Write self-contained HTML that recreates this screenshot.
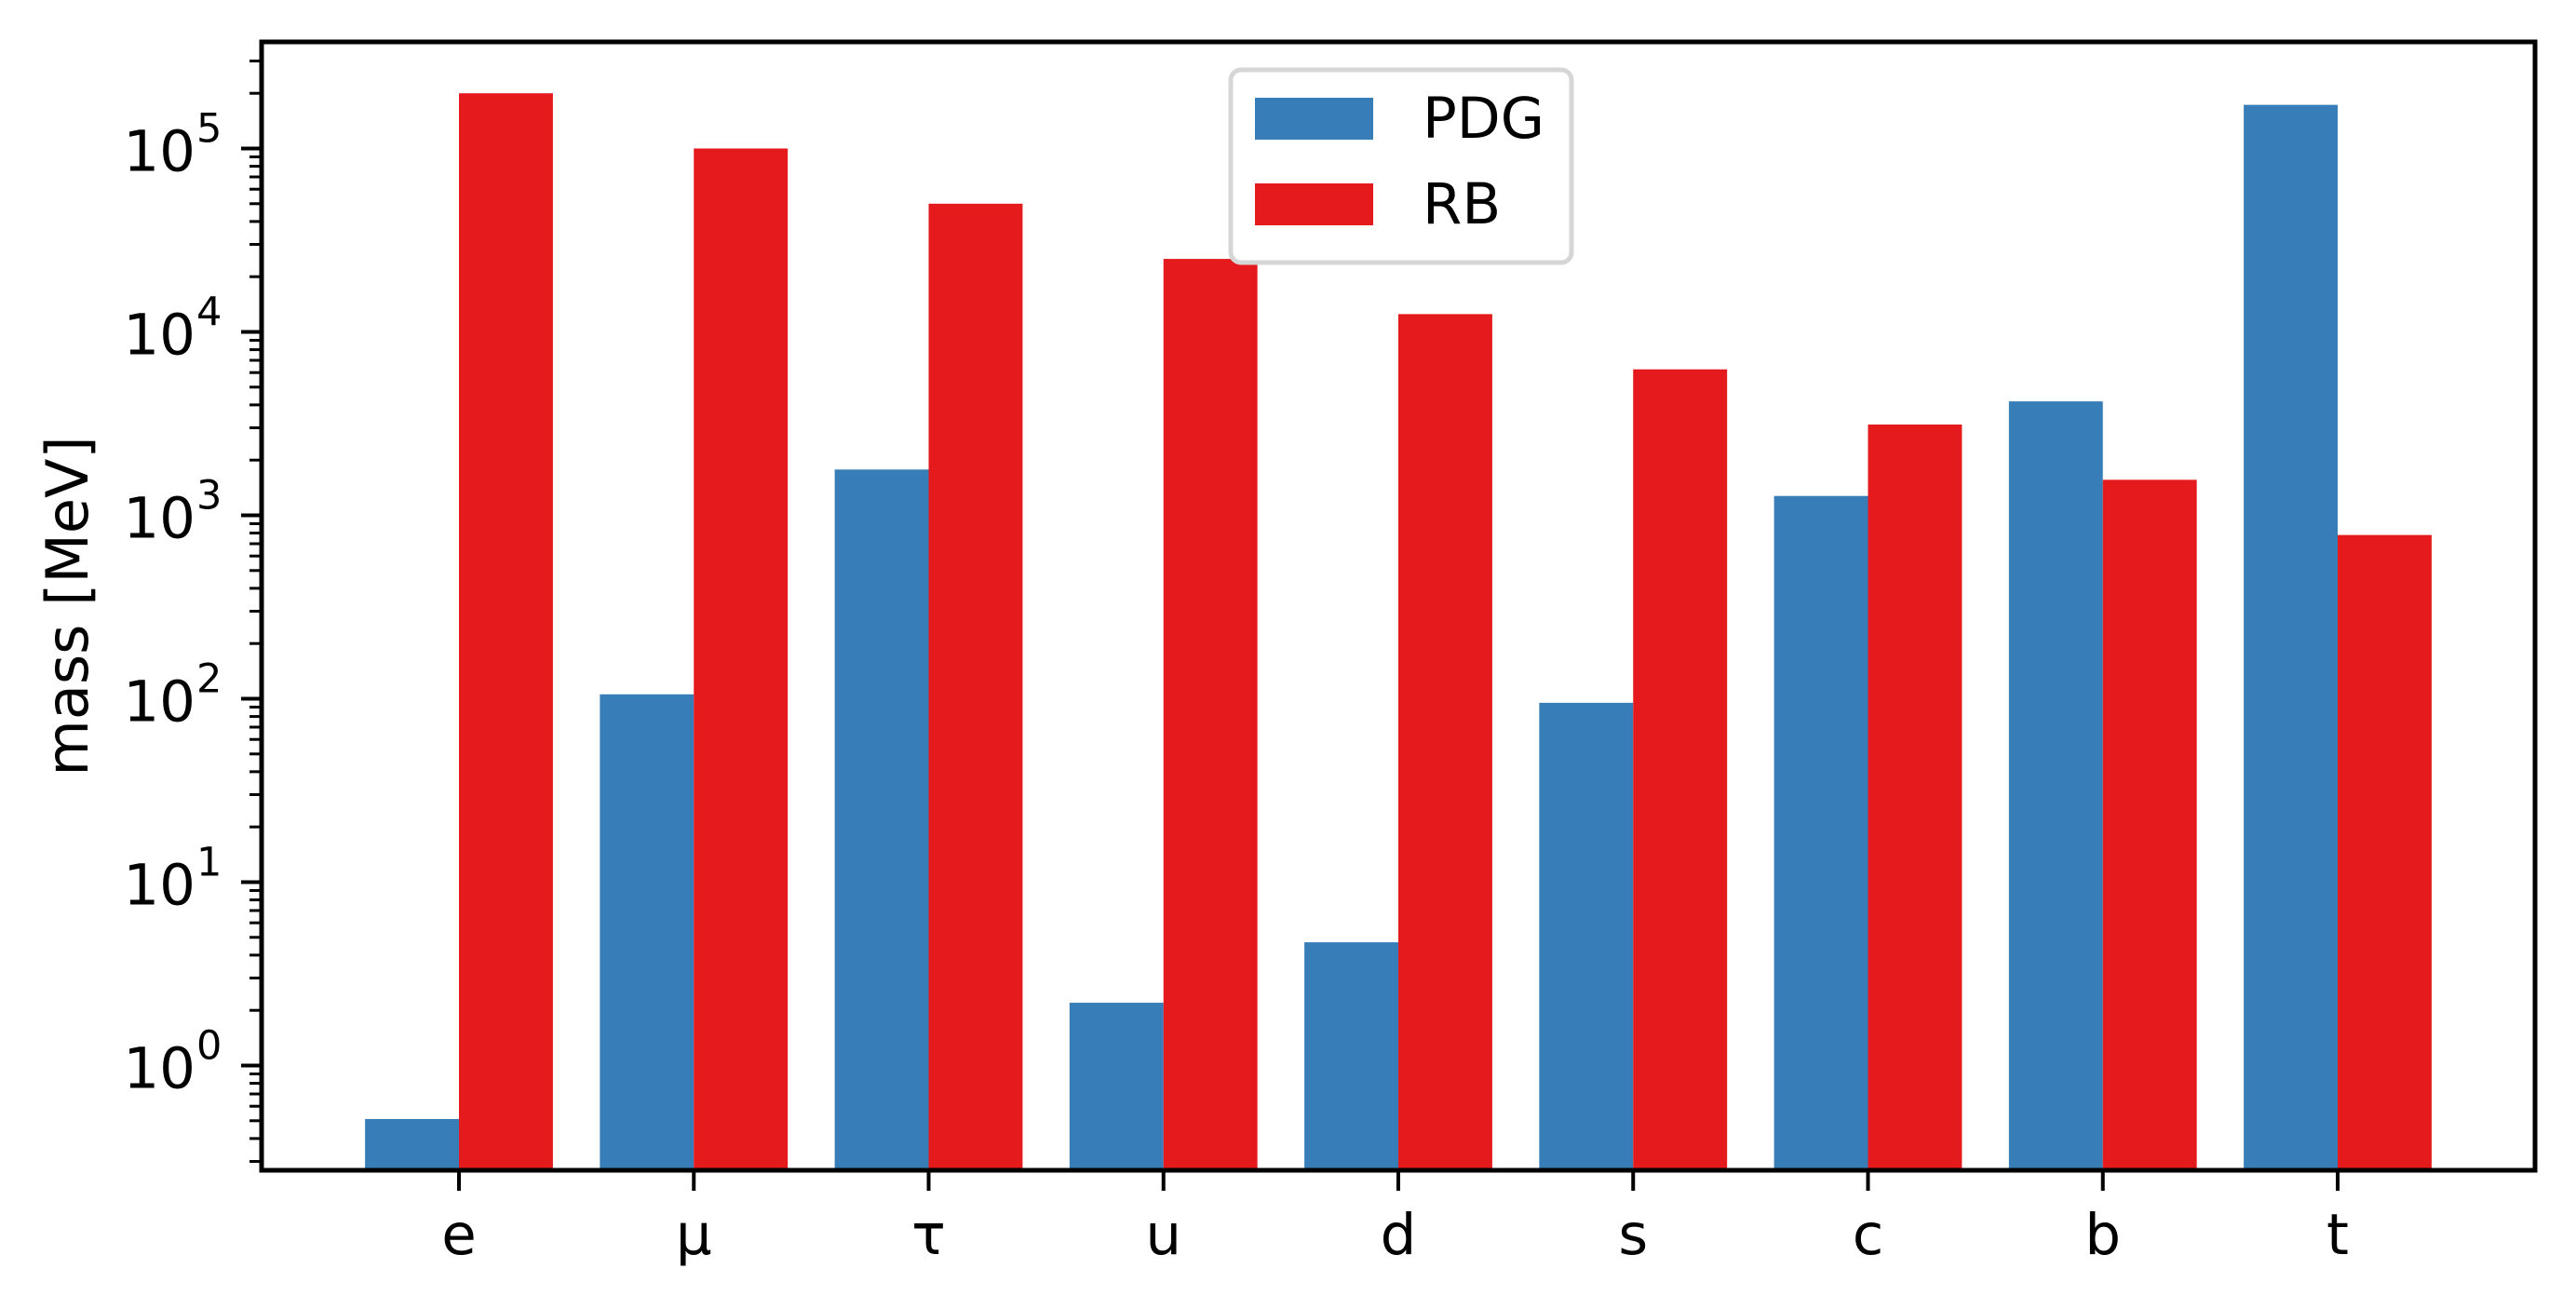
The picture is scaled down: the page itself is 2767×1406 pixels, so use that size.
<!DOCTYPE html>
<html><head><meta charset="utf-8">
<style>
html,body{margin:0;padding:0;background:#fff;}
svg{display:block;font-family:"DejaVu Sans","Liberation Sans",sans-serif;}
</style></head>
<body>
<svg id="chart" width="2767" height="1406" viewBox="0 0 2767 1406" xmlns="http://www.w3.org/2000/svg">
<rect x="0" y="0" width="2767" height="1406" fill="#fff"/>
<g id="bars"></g>
<g id="axes"></g>
<text x="0" y="0" font-size="62" text-anchor="middle" transform="translate(94,651) rotate(-90)">mass [MeV]</text>
<g>
<rect x="1322" y="75" width="366" height="207" rx="11" fill="#fff" stroke="#d6d6d6" stroke-width="5"/>
<rect x="1348" y="105" width="127" height="45" fill="#377eb8"/>
<text x="1528" y="148" font-size="61">PDG</text>
<rect x="1348" y="197" width="127" height="45" fill="#e41a1c"/>
<text x="1528" y="240" font-size="61">RB</text>
</g>
</svg>
<script>
const categories = ["e","μ","τ","u","d","s","c","b","t"];
const pdgValues = [0.511, 105.7, 1777, 2.2, 4.7, 95, 1275, 4180, 173000];
const rbValues = [200000, 100000, 50000, 25000, 12500, 6250, 3125, 1562, 781];
const yTickExps = [0,1,2,3,4,5];

const NS = "http://www.w3.org/2000/svg";
const L = 281, R = 2723, T = 45, B = 1257;
const x0 = 493, dx = 252.25, barW = 0.4;
const yDec0 = 1144.5, decPx = 197;
function xs(v){ return x0 + v*dx; }
function ys(v){ return yDec0 - Math.log10(v)*decPx; }
function mk(tag, attrs, parent){
  const e = document.createElementNS(NS, tag);
  for (const k in attrs) e.setAttribute(k, attrs[k]);
  parent.appendChild(e); return e;
}
const bars = document.getElementById("bars");
const axes = document.getElementById("axes");

categories.forEach((c,i)=>{
  const yp = Math.min(ys(pdgValues[i]), B);
  const b1 = mk("rect",{x:xs(i-barW), y:yp, width:barW*dx, height:B-yp, fill:"#377eb8"}, bars);
  
  
  const yr = Math.min(ys(rbValues[i]), B);
  const b2 = mk("rect",{x:xs(i), y:yr, width:barW*dx, height:B-yr, fill:"#e41a1c"}, bars);
  
  
  const t = mk("line",{x1:xs(i), x2:xs(i), y1:B, y2:B+22, stroke:"#000","stroke-width":4}, axes);
  
  
  const lb = mk("text",{x:xs(i), y:B+90, "font-size":61, "text-anchor":"middle"}, axes);
  lb.textContent = c;
  
  
});

for (let e=-1; e<=5; e++){
  for (let m=2; m<=9; m++){
    const v = m*Math.pow(10,e);
    const y = ys(v);
    if (y < T || y > B) continue;
    const ln = mk("line",{x1:L-13, x2:L, y1:y, y2:y, stroke:"#000","stroke-width":3}, axes);
    
    
  }
}
yTickExps.forEach(e=>{
  const y = ys(Math.pow(10,e));
  const ln = mk("line",{x1:L-22, x2:L, y1:y, y2:y, stroke:"#000","stroke-width":4}, axes);
  
  
  const tx = mk("text",{x:210, y:y+24, "font-size":61, "text-anchor":"end"}, axes);
  tx.textContent = "10";
  
  
  const sp = mk("text",{x:211, y:y-7, "font-size":43, "text-anchor":"start"}, axes);
  sp.textContent = String(e);
  
  
});
const frame = mk("rect",{x:L, y:T, width:R-L, height:B-T, fill:"none", stroke:"#000","stroke-width":5}, axes);


</script>
</body></html>
